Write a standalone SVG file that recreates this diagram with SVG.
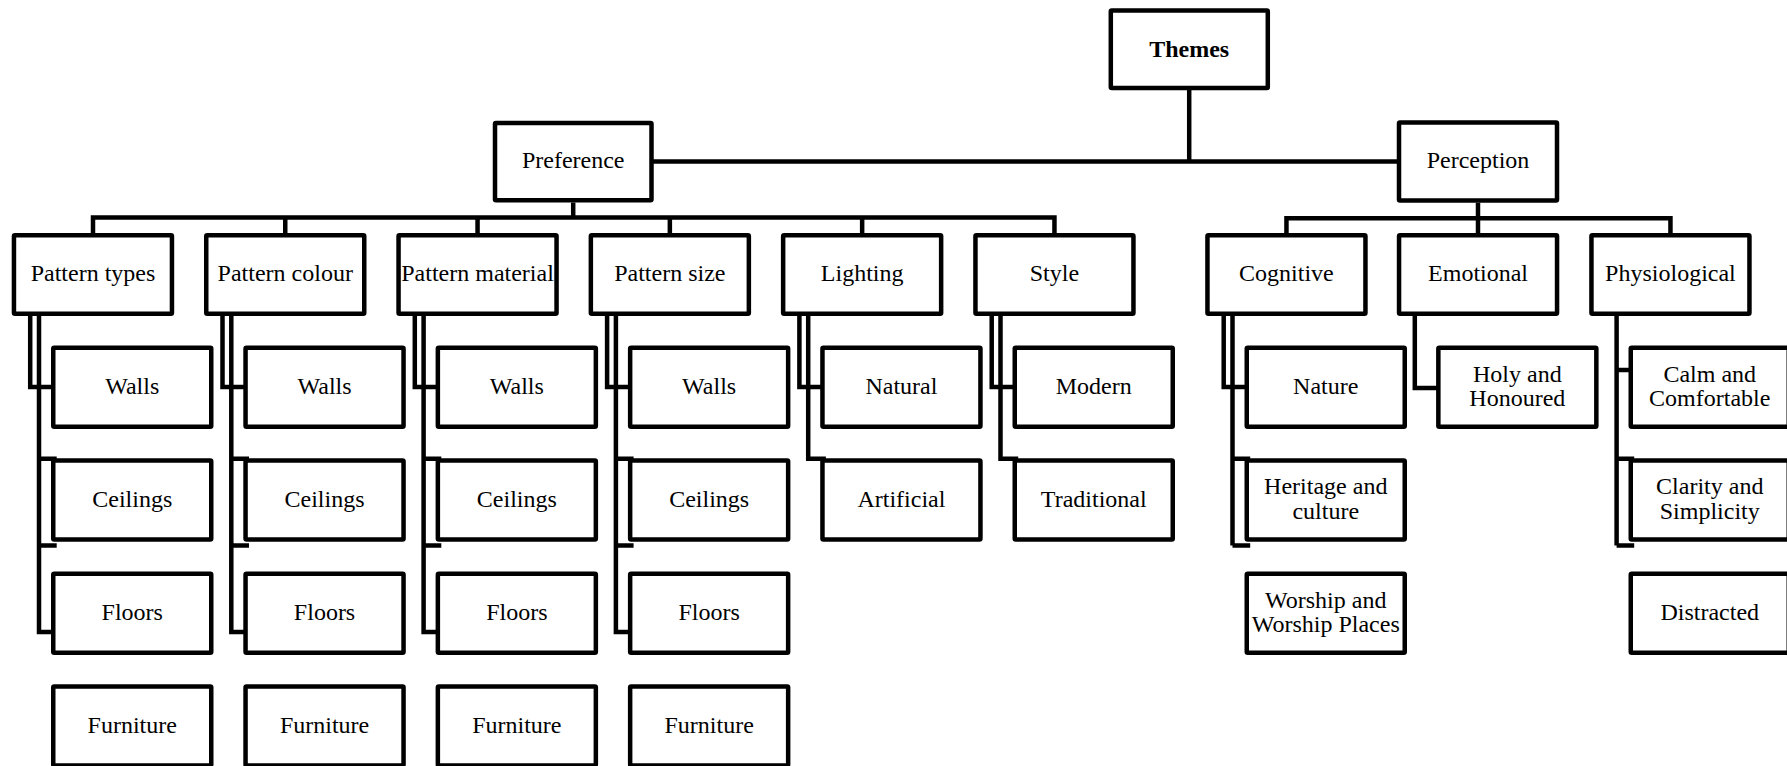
<svg xmlns="http://www.w3.org/2000/svg" width="1787" height="766" viewBox="0 0 1787 766">
  <style>
    .box { fill: #ffffff; stroke: #000000; stroke-width: 4.5; }
    .lbl { font-family: "Liberation Serif", "Times New Roman", serif; font-size: 24px; fill: #000000; text-anchor: middle; }
    .bold { font-weight: bold; }
    .wire { fill: none; stroke: #000000; stroke-width: 4.5; stroke-linejoin: miter; stroke-linecap: butt; }
  </style>
  <rect width="1787" height="766" fill="#ffffff"/>

  <!-- connectors -->
  <g id="connectors" class="wire">
    <!-- root to the two branches -->
    <path d="M1189.2 90 V161.5"/>
    <path d="M651.5 161.5 H1399"/>
    <!-- Preference bus -->
    <path d="M573.2 202.5 V217.5"/>
    <path d="M93 235 V217.5 H1054.45 V235"/>
    <path d="M285.25 217.5 V235 M477.55 217.5 V235 M669.85 217.5 V235 M862.15 217.5 V235"/>
    <!-- Perception bus -->
    <path d="M1478 202.7 V218.3"/>
    <path d="M1286.45 235 V218.3 H1670.45 V235"/>
    <path d="M1478 218.3 V235"/>

    <!-- Pattern types -->
    <path d="M30.2 314 V387 H53"/>
    <path d="M39 314 V632 H53"/>
    <path d="M39 458.7 H56.7 M39 545.5 H56.7"/>
    <!-- Pattern colour -->
    <path d="M222.5 314 V387 H245.5"/>
    <path d="M231.3 314 V632 H245.5"/>
    <path d="M231.3 458.7 H249 M231.3 545.5 H249"/>
    <!-- Pattern material -->
    <path d="M414.8 314 V387 H437.8"/>
    <path d="M423.6 314 V632 H437.8"/>
    <path d="M423.6 458.7 H441.3 M423.6 545.5 H441.3"/>
    <!-- Pattern size -->
    <path d="M607.1 314 V387 H630"/>
    <path d="M615.9 314 V632 H630"/>
    <path d="M615.9 458.7 H633.6 M615.9 545.5 H633.6"/>
    <!-- Lighting -->
    <path d="M799.4 314 V387 H822.4"/>
    <path d="M808.2 314 V458.7 H825.9"/>
    <!-- Style -->
    <path d="M991.7 314 V387 H1014.7"/>
    <path d="M1000.5 314 V458.7 H1018.2"/>
    <!-- Cognitive -->
    <path d="M1223.7 314 V387 H1246.7"/>
    <path d="M1232.5 314 V545.5"/>
    <path d="M1232.5 458.7 H1250.2 M1232.5 545.5 H1250.2"/>
    <!-- Emotional -->
    <path d="M1414.8 314 V388 H1438.3"/>
    <!-- Physiological -->
    <path d="M1616.6 314 V545.5"/>
    <path d="M1616.6 370 H1630.7"/>
    <path d="M1616.6 458.7 H1634.2 M1616.6 545.5 H1634.2"/>
  </g>

  <!-- root -->
  <g id="themes">
    <rect class="box" x="1110.8" y="10.5" width="157" height="77.5" rx="1"/>
    <text class="lbl bold" x="1189.2" y="56.5">Themes</text>
  </g>

  <!-- branches -->
  <g id="preference">
    <rect class="box" x="495" y="123" width="156.5" height="77.3" rx="1"/>
    <text class="lbl" x="573.2" y="168">Preference</text>
  </g>
  <g id="perception">
    <rect class="box" x="1399" y="122.5" width="158" height="78" rx="1"/>
    <text class="lbl" x="1478" y="168">Perception</text>
  </g>

  <!-- second level -->
  <g id="pattern-types">
    <rect class="box" x="13.95" y="235.25" width="158" height="78.5" rx="1"/>
    <text class="lbl" x="93" y="281">Pattern types</text>
  </g>
  <g id="pattern-colour">
    <rect class="box" x="206.25" y="235.25" width="158" height="78.5" rx="1"/>
    <text class="lbl" x="285.25" y="281">Pattern colour</text>
  </g>
  <g id="pattern-material">
    <rect class="box" x="398.55" y="235.25" width="158" height="78.5" rx="1"/>
    <text class="lbl" x="477.55" y="281">Pattern material</text>
  </g>
  <g id="pattern-size">
    <rect class="box" x="590.85" y="235.25" width="158" height="78.5" rx="1"/>
    <text class="lbl" x="669.85" y="281">Pattern size</text>
  </g>
  <g id="lighting">
    <rect class="box" x="783.15" y="235.25" width="158" height="78.5" rx="1"/>
    <text class="lbl" x="862.15" y="281">Lighting</text>
  </g>
  <g id="style">
    <rect class="box" x="975.45" y="235.25" width="158" height="78.5" rx="1"/>
    <text class="lbl" x="1054.45" y="281">Style</text>
  </g>
  <g id="cognitive">
    <rect class="box" x="1207.45" y="235.25" width="158" height="78.5" rx="1"/>
    <text class="lbl" x="1286.45" y="281">Cognitive</text>
  </g>
  <g id="emotional">
    <rect class="box" x="1399.05" y="235.25" width="158" height="78.5" rx="1"/>
    <text class="lbl" x="1478.05" y="281">Emotional</text>
  </g>
  <g id="physiological">
    <rect class="box" x="1591.45" y="235.25" width="158" height="78.5" rx="1"/>
    <text class="lbl" x="1670.45" y="281">Physiological</text>
  </g>

  <!-- Pattern types children -->
  <g id="types-walls"><rect class="box" x="53.25" y="347.75" width="158" height="79" rx="1"/><text class="lbl" x="132.25" y="393.75">Walls</text></g>
  <g id="types-ceilings"><rect class="box" x="53.25" y="460.55" width="158" height="79" rx="1"/><text class="lbl" x="132.25" y="506.55">Ceilings</text></g>
  <g id="types-floors"><rect class="box" x="53.25" y="573.75" width="158" height="79" rx="1"/><text class="lbl" x="132.25" y="619.75">Floors</text></g>
  <g id="types-furniture"><rect class="box" x="53.25" y="686.55" width="158" height="79" rx="1"/><text class="lbl" x="132.25" y="732.55">Furniture</text></g>

  <!-- Pattern colour children -->
  <g id="colour-walls"><rect class="box" x="245.55" y="347.75" width="158" height="79" rx="1"/><text class="lbl" x="324.55" y="393.75">Walls</text></g>
  <g id="colour-ceilings"><rect class="box" x="245.55" y="460.55" width="158" height="79" rx="1"/><text class="lbl" x="324.55" y="506.55">Ceilings</text></g>
  <g id="colour-floors"><rect class="box" x="245.55" y="573.75" width="158" height="79" rx="1"/><text class="lbl" x="324.55" y="619.75">Floors</text></g>
  <g id="colour-furniture"><rect class="box" x="245.55" y="686.55" width="158" height="79" rx="1"/><text class="lbl" x="324.55" y="732.55">Furniture</text></g>

  <!-- Pattern material children -->
  <g id="material-walls"><rect class="box" x="437.85" y="347.75" width="158" height="79" rx="1"/><text class="lbl" x="516.85" y="393.75">Walls</text></g>
  <g id="material-ceilings"><rect class="box" x="437.85" y="460.55" width="158" height="79" rx="1"/><text class="lbl" x="516.85" y="506.55">Ceilings</text></g>
  <g id="material-floors"><rect class="box" x="437.85" y="573.75" width="158" height="79" rx="1"/><text class="lbl" x="516.85" y="619.75">Floors</text></g>
  <g id="material-furniture"><rect class="box" x="437.85" y="686.55" width="158" height="79" rx="1"/><text class="lbl" x="516.85" y="732.55">Furniture</text></g>

  <!-- Pattern size children -->
  <g id="size-walls"><rect class="box" x="630.15" y="347.75" width="158" height="79" rx="1"/><text class="lbl" x="709.15" y="393.75">Walls</text></g>
  <g id="size-ceilings"><rect class="box" x="630.15" y="460.55" width="158" height="79" rx="1"/><text class="lbl" x="709.15" y="506.55">Ceilings</text></g>
  <g id="size-floors"><rect class="box" x="630.15" y="573.75" width="158" height="79" rx="1"/><text class="lbl" x="709.15" y="619.75">Floors</text></g>
  <g id="size-furniture"><rect class="box" x="630.15" y="686.55" width="158" height="79" rx="1"/><text class="lbl" x="709.15" y="732.55">Furniture</text></g>

  <!-- Lighting children -->
  <g id="lighting-natural"><rect class="box" x="822.45" y="347.75" width="158" height="79" rx="1"/><text class="lbl" x="901.45" y="393.75">Natural</text></g>
  <g id="lighting-artificial"><rect class="box" x="822.45" y="460.55" width="158" height="79" rx="1"/><text class="lbl" x="901.45" y="506.55">Artificial</text></g>

  <!-- Style children -->
  <g id="style-modern"><rect class="box" x="1014.75" y="347.75" width="158" height="79" rx="1"/><text class="lbl" x="1093.75" y="393.75">Modern</text></g>
  <g id="style-traditional"><rect class="box" x="1014.75" y="460.55" width="158" height="79" rx="1"/><text class="lbl" x="1093.75" y="506.55">Traditional</text></g>

  <!-- Cognitive children -->
  <g id="cognitive-nature"><rect class="box" x="1246.75" y="347.75" width="158" height="79" rx="1"/><text class="lbl" x="1325.75" y="393.75">Nature</text></g>
  <g id="cognitive-heritage"><rect class="box" x="1246.75" y="460.55" width="158" height="79" rx="1"/><text class="lbl" x="1325.75" y="494.3">Heritage and</text><text class="lbl" x="1325.75" y="518.6">culture</text></g>
  <g id="cognitive-worship"><rect class="box" x="1246.75" y="573.75" width="158" height="79" rx="1"/><text class="lbl" x="1325.75" y="607.5">Worship and</text><text class="lbl" x="1325.75" y="631.9">Worship Places</text></g>

  <!-- Emotional children -->
  <g id="emotional-holy"><rect class="box" x="1438.35" y="347.75" width="158" height="79" rx="1"/><text class="lbl" x="1517.35" y="381.5">Holy and</text><text class="lbl" x="1517.35" y="405.9">Honoured</text></g>

  <!-- Physiological children -->
  <g id="physio-calm"><rect class="box" x="1630.75" y="347.75" width="158" height="79" rx="1"/><text class="lbl" x="1709.75" y="381.5">Calm and</text><text class="lbl" x="1709.75" y="405.9">Comfortable</text></g>
  <g id="physio-clarity"><rect class="box" x="1630.75" y="460.55" width="158" height="79" rx="1"/><text class="lbl" x="1709.75" y="494.3">Clarity and</text><text class="lbl" x="1709.75" y="518.6">Simplicity</text></g>
  <g id="physio-distracted"><rect class="box" x="1630.75" y="573.75" width="158" height="79" rx="1"/><text class="lbl" x="1709.75" y="619.75">Distracted</text></g>
</svg>
